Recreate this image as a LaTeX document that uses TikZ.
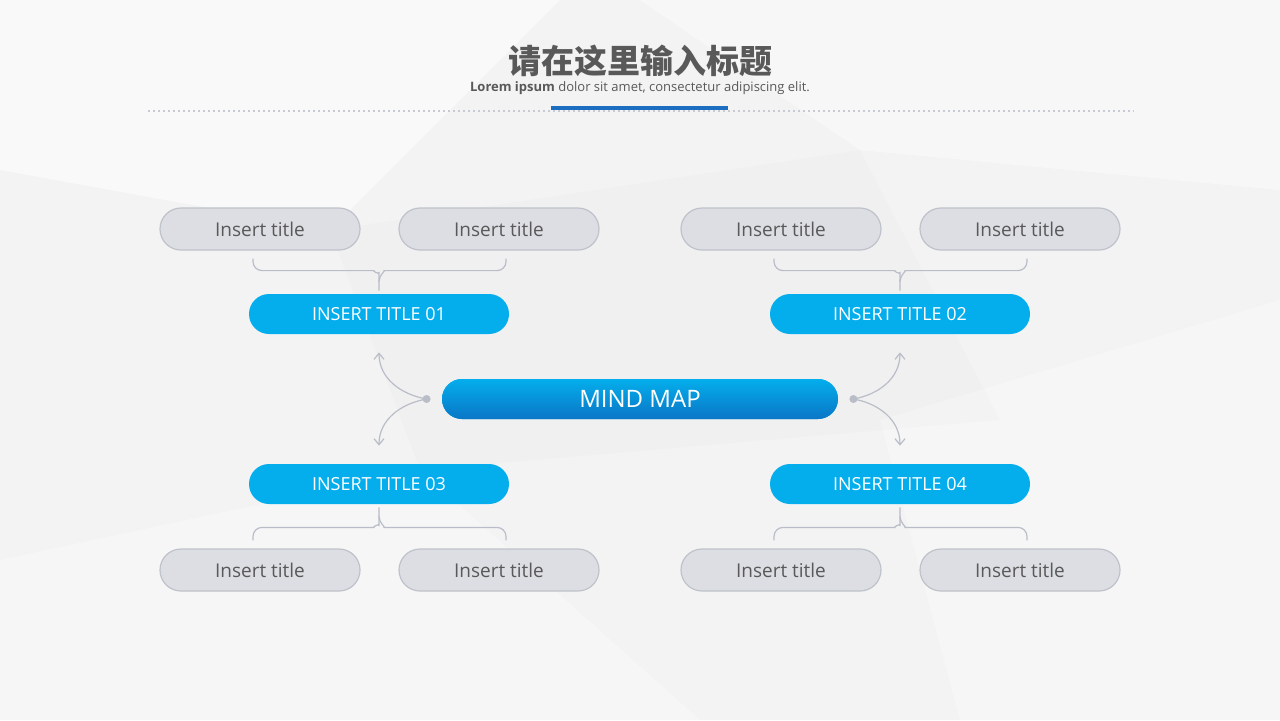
\documentclass[tikz,border=0pt]{standalone}
\usepackage{fontspec}
\setmainfont{Open Sans}
\newfontfamily\cjkfont{Noto Sans CJK SC}
\usetikzlibrary{arrows.meta,calc}

\definecolor{bgc}{HTML}{F3F3F4}
\definecolor{pillgray}{HTML}{DCDEE3}
\definecolor{pilledge}{HTML}{BEC2CA}
\definecolor{skyblue}{HTML}{04AEEC}
\definecolor{deepblue}{HTML}{0A76C6}
\definecolor{linegray}{HTML}{B9BDC7}
\definecolor{txtgray}{HTML}{595959}
\definecolor{barblue}{HTML}{1C6FC0}

\tikzset{
  subpill/.style={draw=pilledge, line width=0.6pt, fill=pillgray, rounded corners=10.5pt,
    minimum width=100pt, minimum height=21pt, inner sep=0pt, text=txtgray,
    font=\fontsize{9.5}{11}\selectfont},
  mainpill/.style={fill=skyblue, rounded corners=10pt, minimum width=130pt,
    minimum height=20pt, inner sep=0pt, text=white, font=\fontsize{9}{11}\selectfont},
  bracket/.style={draw=linegray, line width=0.6pt, rounded corners=4.5pt},
  link/.style={draw=linegray, line width=0.6pt, -{Straight Barb[length=3pt,width=5pt]}},
}

\begin{document}
\begin{tikzpicture}[x=0.5pt,y=-0.5pt]
% Sfondo
\fill[bgc] (0,0) rectangle (1280,720);
\fill[white,opacity=0.5] (0,0) -- (560,0) -- (330,230) -- (0,170) -- cycle;
\fill[white,opacity=0.4] (640,0) -- (1280,0) -- (1280,190) -- (860,150) -- cycle;
\fill[white,opacity=0.3] (0,560) -- (420,470) -- (700,720) -- (0,720) -- cycle;
\fill[white,opacity=0.3] (880,420) -- (1280,300) -- (1280,720) -- (960,720) -- cycle;
\fill[black,opacity=0.012] (330,230) -- (860,150) -- (1000,420) -- (420,470) -- cycle;
\useasboundingbox (0,0) rectangle (1280,720);

% Titolo
\node[text=txtgray] (title) at (640,61) {\cjkfont\bfseries\fontsize{16.5}{18}\selectfont 请在这里输入标题};
\node[text=txtgray, font=\fontsize{6.5}{8}\selectfont] (sub) at (640,88)
  {\textbf{Lorem ipsum} dolor sit amet, consectetur adipiscing elit.};
\draw[linegray!80, line width=1pt, dash pattern=on 1pt off 1.5pt] (148,111) -- (1134,111);
\fill[barblue] (551,105.5) rectangle (728,109.5);

% Nodo centrale
\node[mainpill, minimum width=198pt, top color=skyblue, bottom color=deepblue,
  font=\fontsize{12}{14}\selectfont] (mind) at (640,399) {MIND MAP};
\coordinate (dl) at ($(mind.west)+(-15,0)$);
\coordinate (dr) at ($(mind.east)+(15,0)$);

% Rami principali
\node[mainpill] (t1) at (379,314) {INSERT TITLE 01};
\node[mainpill] (t2) at (900,314) {INSERT TITLE 02};
\node[mainpill] (t3) at (379,484) {INSERT TITLE 03};
\node[mainpill] (t4) at (900,484) {INSERT TITLE 04};

% Sottorami
\node[subpill] (s1a) at (260,229) {Insert title};
\node[subpill] (s1b) at (499,229) {Insert title};
\node[subpill] (s2a) at (781,229) {Insert title};
\node[subpill] (s2b) at (1020,229) {Insert title};
\node[subpill] (s3a) at (260,570) {Insert title};
\node[subpill] (s3b) at (499,570) {Insert title};
\node[subpill] (s4a) at (781,570) {Insert title};
\node[subpill] (s4b) at (1020,570) {Insert title};

% Parentesi in alto
\draw[bracket] ($(s1a.south)+(-7,8)$) |- ($(t1.north)+(-14,-23)$) to[out=0,in=90] ($(t1.north)+(0,-12)$) -- ($(t1.north)+(0,-4)$);
\draw[bracket] ($(s1b.south)+(7,8)$) |- ($(t1.north)+(14,-23)$) to[out=180,in=90] ($(t1.north)+(0,-12)$);
\draw[bracket] ($(s2a.south)+(-7,8)$) |- ($(t2.north)+(-14,-23)$) to[out=0,in=90] ($(t2.north)+(0,-12)$) -- ($(t2.north)+(0,-4)$);
\draw[bracket] ($(s2b.south)+(7,8)$) |- ($(t2.north)+(14,-23)$) to[out=180,in=90] ($(t2.north)+(0,-12)$);

% Parentesi in basso
\draw[bracket] ($(t3.south)+(0,4)$) -- ($(t3.south)+(0,12)$) to[out=-90,in=0] ($(t3.south)+(-14,23)$) -| ($(s3a.north)+(-7,-8)$);
\draw[bracket] ($(t3.south)+(0,12)$) to[out=-90,in=180] ($(t3.south)+(14,23)$) -| ($(s3b.north)+(7,-8)$);
\draw[bracket] ($(t4.south)+(0,4)$) -- ($(t4.south)+(0,12)$) to[out=-90,in=0] ($(t4.south)+(-14,23)$) -| ($(s4a.north)+(-7,-8)$);
\draw[bracket] ($(t4.south)+(0,12)$) to[out=-90,in=180] ($(t4.south)+(14,23)$) -| ($(s4b.north)+(7,-8)$);

% Frecce dal centro
\fill[linegray] (dl) circle (2pt);
\fill[linegray] (dr) circle (2pt);
\draw[link] (dl) to[out=170,in=-90] ($(t1.south)+(0,18)$);
\draw[link] (dl) to[out=190,in=90] ($(t3.north)+(0,-18)$);
\draw[link] (dr) to[out=10,in=-90] ($(t2.south)+(0,18)$);
\draw[link] (dr) to[out=-10,in=90] ($(t4.north)+(0,-18)$);
\end{tikzpicture}
\end{document}
